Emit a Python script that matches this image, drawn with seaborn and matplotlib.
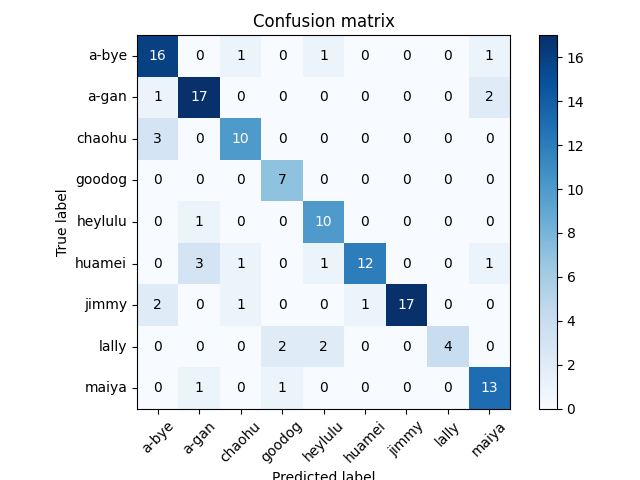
import matplotlib
matplotlib.use('Agg')
import matplotlib.pyplot as plt
import numpy as np
import pandas as pd
import seaborn as sns

classes = ['a-bye', 'a-gan', 'chaohu', 'goodog', 'heylulu', 'huamei', 'jimmy', 'lally', 'maiya']
row_a_bye = [16, 0, 1, 0, 1, 0, 0, 0, 1]
row_a_gan = [1, 17, 0, 0, 0, 0, 0, 0, 2]
row_chaohu = [3, 0, 10, 0, 0, 0, 0, 0, 0]
row_goodog = [0, 0, 0, 7, 0, 0, 0, 0, 0]
row_heylulu = [0, 1, 0, 0, 10, 0, 0, 0, 0]
row_huamei = [0, 3, 1, 0, 1, 12, 0, 0, 1]
row_jimmy = [2, 0, 1, 0, 0, 1, 17, 0, 0]
row_lally = [0, 0, 0, 2, 2, 0, 0, 4, 0]
row_maiya = [0, 1, 0, 1, 0, 0, 0, 0, 13]

cm = pd.DataFrame([row_a_bye, row_a_gan, row_chaohu, row_goodog, row_heylulu,
                   row_huamei, row_jimmy, row_lally, row_maiya],
                  index=classes, columns=classes)

fig = plt.figure(figsize=(6.4, 4.8), dpi=100)
ax = fig.add_axes([0.214, 0.148, 0.583, 0.779])
cax = fig.add_axes([0.842, 0.148, 0.028, 0.779])

sns.heatmap(cm, cmap='Blues', ax=ax, cbar_ax=cax, annot=False, square=False,
            vmin=0, vmax=cm.values.max())

thresh = cm.values.max() / 2.0
for i in range(cm.shape[0]):
    for j in range(cm.shape[1]):
        v = cm.values[i, j]
        ax.text(j + 0.5, i + 0.5, str(v), ha='center', va='center', fontsize=10,
                color='white' if v > thresh else 'black')

for s in ax.spines.values():
    s.set_visible(True)
    s.set_color('black')
    s.set_linewidth(0.8)
ax.set_title('Confusion matrix', fontsize=12)
ax.set_xlabel('Predicted label', fontsize=10)
ax.set_ylabel('True label', fontsize=10)
ax.set_xticklabels(classes, rotation=45, fontsize=10)
ax.set_yticklabels(classes, rotation=0, fontsize=10)
ax.tick_params(length=3.5, width=0.8, color='black')

cb = ax.collections[0].colorbar
cb.outline.set_visible(True)
cb.outline.set_linewidth(0.8)
cb.outline.set_edgecolor('black')
cb.set_ticks([0, 2, 4, 6, 8, 10, 12, 14, 16])
cax.tick_params(labelsize=10, length=3.5, width=0.8)

fig.savefig('out.png', dpi=100)
